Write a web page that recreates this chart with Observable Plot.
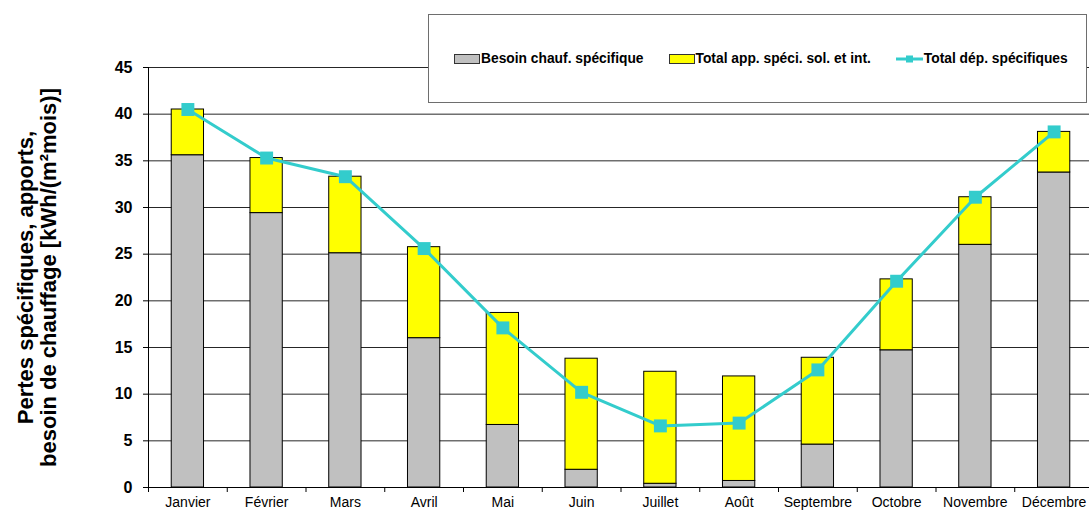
<!DOCTYPE html>
<html><head><meta charset="utf-8">
<script src="https://cdn.jsdelivr.net/npm/d3@7"></script>
<script src="https://cdn.jsdelivr.net/npm/@observablehq/plot@0.6"></script>
<style>
body{margin:0;background:#fff;font-family:"Liberation Sans",Arial,sans-serif;}
#wrap{position:relative;width:1089px;height:510px;overflow:hidden;}
#legend{position:absolute;left:428px;top:14px;border:1px solid #6e6e6e;background:#fff;display:flex;align-items:center;padding-left:25px;box-sizing:border-box;width:659px;height:89px;}
.item{display:flex;align-items:center;margin-right:25px;font-size:13.8px;font-weight:bold;color:#000;white-space:nowrap;}
.item svg{display:block;margin-right:1px;}
</style></head>
<body><div id="wrap"><div id="chart"></div><div id="legend"></div></div>
<script>
const months = ["Janvier","Février","Mars","Avril","Mai","Juin","Juillet","Août","Septembre","Octobre","Novembre","Décembre"];
const besoin = [35.6, 29.4, 25.1, 16.0, 6.7, 1.9, 0.4, 0.7, 4.6, 14.7, 26.0, 33.75];
const apports = [4.9, 5.9, 8.2, 9.75, 12.0, 11.9, 12.0, 11.2, 9.3, 7.6, 5.1, 4.35];
const deperditions = [40.5, 35.3, 33.3, 25.6, 17.1, 10.2, 6.6, 6.9, 12.6, 22.1, 31.1, 38.1];
const yTicks = [0, 5, 10, 15, 20, 25, 30, 35, 40, 45];
const seriesLabels = ["Besoin chauf. spécifique", "Total app. spéci. sol. et int.", "Total dép. spécifiques"];
const yLabel = "Pertes spécifiques, apports,\nbesoin de chauffage [kWh/(m²mois)]";

const gray = "#c0c0c0", yellow = "#ffff00", cyan = "#33cccc";

const rows = months.flatMap((m, i) => [
  {mois: m, serie: seriesLabels[0], v: besoin[i]},
  {mois: m, serie: seriesLabels[1], v: apports[i]}
]);
const lineData = months.map((m, i) => ({mois: m, v: deperditions[i]}));

const W = 1089, H = 510, mL = 148, mR = -4, mT = 67, mB = 23;
const step = (W - mL - mR) / months.length;

const chart = Plot.plot({
  width: W, height: H,
  marginLeft: mL, marginRight: mR, marginTop: mT, marginBottom: mB,
  style: {fontFamily: "'Liberation Sans', Arial, sans-serif", color: "#000", background: "transparent", overflow: "visible"},
  x: {domain: months, paddingInner: 0.59, paddingOuter: 0.295, round: false, label: null},
  y: {domain: [0, 45], label: null},
  color: {domain: seriesLabels.slice(0, 2), range: [gray, yellow]},
  marks: [
    Plot.gridY(yTicks, {stroke: "#000", strokeOpacity: 0.85}),
    Plot.barY(rows, {x: "mois", y: "v", fill: "serie", stroke: "#000", strokeWidth: 1}),
    Plot.ruleY([0], {stroke: "#000"}),
    Plot.ruleX([months[0]], {x: d => d, dx: -step / 2, stroke: "#000"}),
    Plot.ruleX(months, {x: d => d, y1: 0, y2: 0, insetTop: 5, dx: -step / 2, stroke: "#000"}),
    Plot.axisY(yTicks, {tickSize: 5, tickPadding: 11, fontSize: 16, fontWeight: "bold", stroke: "#000", label: null}),
    Plot.axisX({tickSize: 0, tickPadding: 10, fontSize: 14, label: null}),
    Plot.line(lineData, {x: "mois", y: "v", stroke: cyan, strokeWidth: 3}),
    Plot.dot(lineData, {x: "mois", y: "v", symbol: "square", r: 7.3, fill: cyan, stroke: "none"}),
    Plot.text([yLabel], {frameAnchor: "left", rotate: -90, textAnchor: "middle", lineAnchor: "middle",
      dx: 36.5 - mL, fontSize: 22, fontWeight: "bold", lineHeight: 1.07, fill: "#000"})
  ]
});
document.getElementById("chart").appendChild(chart);

const legend = document.getElementById("legend");
const swatches = [
  `<svg width="26" height="10"><rect x="0.5" y="0.5" width="25" height="9" fill="${gray}" stroke="#333"/></svg>`,
  `<svg width="26" height="10"><rect x="0.5" y="0.5" width="25" height="9" fill="${yellow}" stroke="#333"/></svg>`,
  `<svg width="27" height="10"><line x1="0" x2="27" y1="5" y2="5" stroke="${cyan}" stroke-width="3"/><rect x="10" y="1.5" width="7" height="7" fill="${cyan}"/></svg>`
];
seriesLabels.forEach((lab, i) => {
  const d = document.createElement("div");
  d.className = "item";
  d.innerHTML = swatches[i] + `<span>${lab}</span>`;
  legend.appendChild(d);
});
</script></body></html>
